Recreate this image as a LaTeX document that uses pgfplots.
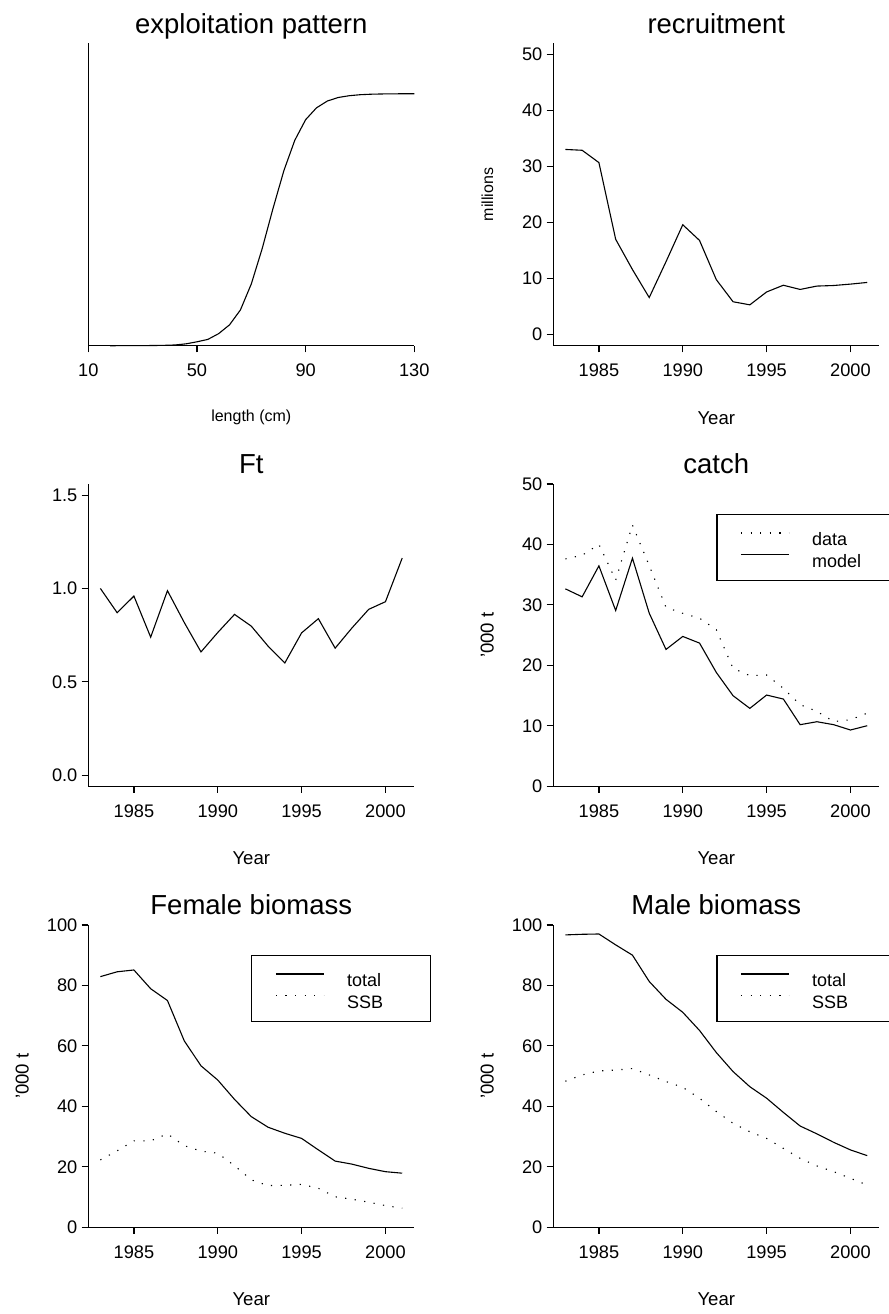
\documentclass[border=0pt]{standalone}
\usepackage{fontspec}
\setmainfont{Liberation Sans}
\usepackage{pgfplots}
\pgfplotsset{compat=1.18}
\pgfplotsset{
  rstyle/.style={
    scale only axis, width=163pt, height=151.2pt,
    axis lines*=left,
    axis line style={line width=0.6pt, black},
    tick style={line width=0.6pt, black},
    tick align=outside,
    major tick length=3.3pt,
    ticklabel style={font=\fontsize{9.1}{10}\selectfont},
    /pgf/number format/assume math mode=true,
    /pgf/number format/1000 sep={},
    xticklabel style={inner sep=0pt, yshift=-5.5pt},
    yticklabel style={inner sep=0pt, xshift=-2pt},
    title style={at={(axis description cs:0.5,1)}, anchor=base, yshift=-1pt, font=\fontsize{13.75}{15}\selectfont},
    xlabel style={at={([yshift=-36pt]axis description cs:0.5,0)}, anchor=center, font=\fontsize{9.3}{10}\selectfont},
    ylabel style={at={([xshift=-33pt]axis description cs:0,0.5)}, anchor=center, font=\fontsize{9.3}{10}\selectfont},
    cycle list={{black, mark=none}},
    every axis plot/.append style={line width=0.55pt, black, mark=none},
    clip=false,
    legend cell align=left,
    legend image code/.code={\draw[##1] (12pt,2pt) -- (36pt,2pt); \path[draw=none] (0pt,0pt) -- (47.6pt,0pt);},
    legend style={at={(axis description cs:0.5,0.9)}, anchor=north west, draw=black, line width=0.6pt,
      inner xsep=0pt, inner ysep=5.7pt, row sep=0pt, column sep=0pt,
      font=\fontsize{9}{10}\selectfont,
      nodes={inner sep=0pt, text height=9.8pt, text depth=1pt}},
  },
  yearaxis/.style={rstyle, xmin=1982.28, xmax=2001.72, xtick={1985,1990,1995,2000}, xlabel={Year}},
  dotline/.style={black, mark=none, line width=0.55pt, dash pattern=on 0.6pt off 4.2pt},
  solidline/.style={black, mark=none, solid, line width=0.55pt},
}
\begin{document}
\begin{tikzpicture}
% ---------- exploitation pattern ----------
\begin{axis}[rstyle, at={(44.15pt,-172.85pt)}, anchor=south west,
  xmin=10, xmax=130, ymin=0, ymax=1.2, xtick={10,50,90,130}, ytick=\empty,
  title={exploitation pattern}, xlabel={length (cm)},
  xlabel style={font=\fontsize{8}{9}\selectfont}]
\addplot[solidline] coordinates {(18,0.0000) (22,0.0001) (26,0.0002) (30,0.0004) (34,0.0008) (38,0.0015)
 (42,0.0030) (46,0.0075) (50,0.0155) (54,0.0250) (58,0.0480) (62,0.0830) (66,0.1420) (70,0.2450)
 (74,0.3850) (78,0.5450) (82,0.6950) (86,0.8150) (90,0.8970) (94,0.9440) (98,0.9710) (102,0.9850)
 (106,0.9920) (110,0.9960) (114,0.9980) (118,0.9990) (122,0.9995) (126,0.9998) (130,1.0000)};
\end{axis}
% ---------- recruitment ----------
\begin{axis}[yearaxis, at={(276.65pt,-172.85pt)}, anchor=south west,
  ymin=-2, ymax=52, ytick={0,10,20,30,40,50},
  title={recruitment}, ylabel={millions},
  ylabel style={font=\fontsize{8}{9}\selectfont}]
\addplot[solidline] coordinates {(1983,33.05) (1984,32.9) (1985,30.7) (1986,17.0) (1987,11.6) (1988,6.6)
 (1989,13.0) (1990,19.6) (1991,16.8) (1992,9.8) (1993,5.85) (1994,5.3) (1995,7.6) (1996,8.8)
 (1997,8.05) (1998,8.65) (1999,8.75) (2000,9.0) (2001,9.3)};
\end{axis}
% ---------- Ft ----------
\begin{axis}[yearaxis, at={(44.15pt,-393.15pt)}, anchor=south west,
  ymin=-0.06, ymax=1.56, ytick={0,0.5,1,1.5},
  yticklabel style={/pgf/number format/fixed, /pgf/number format/fixed zerofill, /pgf/number format/precision=1},
  title={Ft}]
\addplot[solidline] coordinates {(1983,1.000) (1984,0.870) (1985,0.959) (1986,0.739) (1987,0.988) (1988,0.818)
 (1989,0.660) (1990,0.764) (1991,0.861) (1992,0.798) (1993,0.691) (1994,0.601) (1995,0.762)
 (1996,0.838) (1997,0.680) (1998,0.788) (1999,0.888) (2000,0.929) (2001,1.163)};
\end{axis}
% ---------- catch ----------
\begin{axis}[yearaxis, at={(276.65pt,-393.15pt)}, anchor=south west,
  ymin=0, ymax=50, ytick={0,10,20,30,40,50},
  title={catch}, ylabel={'000 t}]
\addplot[dotline] coordinates {(1983,37.6) (1984,38.2) (1985,40.0) (1986,34.1) (1987,43.2) (1988,36.5)
 (1989,29.6) (1990,28.6) (1991,27.8) (1992,25.9) (1993,19.5) (1994,18.3) (1995,18.4) (1996,16.2)
 (1997,13.5) (1998,12.4) (1999,10.7) (2000,11.0) (2001,12.1)};
\addlegendentry{\makebox[41.6pt][l]{data}}
\addplot[solidline] coordinates {(1983,32.65) (1984,31.33) (1985,36.45) (1986,29.07) (1987,37.72) (1988,28.63)
 (1989,22.63) (1990,24.78) (1991,23.68) (1992,18.83) (1993,14.98) (1994,12.89) (1995,15.09)
 (1996,14.43) (1997,10.19) (1998,10.68) (1999,10.19) (2000,9.31) (2001,10.02)};
\addlegendentry{\makebox[41.6pt][l]{model}}
\end{axis}
% ---------- Female biomass ----------
\begin{axis}[yearaxis, at={(44.15pt,-613.65pt)}, anchor=south west,
  ymin=0, ymax=100, ytick={0,20,40,60,80,100},
  title={Female biomass}, ylabel={'000 t}]
\addplot[solidline] coordinates {(1983,82.9) (1984,84.5) (1985,85.1) (1986,78.9) (1987,75.0) (1988,61.7)
 (1989,53.4) (1990,48.7) (1991,42.3) (1992,36.6) (1993,33.1) (1994,31.1) (1995,29.4) (1996,25.6)
 (1997,21.9) (1998,20.9) (1999,19.5) (2000,18.4) (2001,17.9)};
\addlegendentry{\makebox[41.6pt][l]{total}}
\addplot[dotline] coordinates {(1983,22.3) (1984,25.3) (1985,28.6) (1986,28.6) (1987,30.9) (1988,27.0)
 (1989,25.2) (1990,24.5) (1991,20.4) (1992,15.7) (1993,13.8) (1994,13.9) (1995,14.2) (1996,12.9)
 (1997,10.1) (1998,9.3) (1999,8.3) (2000,7.2) (2001,6.3)};
\addlegendentry{\makebox[41.6pt][l]{SSB}}
\end{axis}
% ---------- Male biomass ----------
\begin{axis}[yearaxis, at={(276.65pt,-613.65pt)}, anchor=south west,
  ymin=0, ymax=100, ytick={0,20,40,60,80,100},
  title={Male biomass}, ylabel={'000 t}]
\addplot[solidline] coordinates {(1983,96.7) (1984,96.9) (1985,97.0) (1986,93.4) (1987,90.0) (1988,81.3)
 (1989,75.4) (1990,71.1) (1991,65.1) (1992,57.8) (1993,51.5) (1994,46.5) (1995,42.7) (1996,38.0)
 (1997,33.5) (1998,30.9) (1999,28.1) (2000,25.6) (2001,23.7)};
\addlegendentry{\makebox[41.6pt][l]{total}}
\addplot[dotline] coordinates {(1983,48.3) (1984,50.4) (1985,51.7) (1986,52.0) (1987,52.5) (1988,50.4)
 (1989,48.2) (1990,46.3) (1991,42.7) (1992,38.3) (1993,34.4) (1994,31.6) (1995,29.4) (1996,26.1)
 (1997,22.8) (1998,20.3) (1999,18.4) (2000,16.2) (2001,14.0)};
\addlegendentry{\makebox[41.6pt][l]{SSB}}
\end{axis}
\pgfresetboundingbox
\path[use as bounding box] (0pt,0pt) rectangle (444.5pt,-657pt);
\end{tikzpicture}
\end{document}
